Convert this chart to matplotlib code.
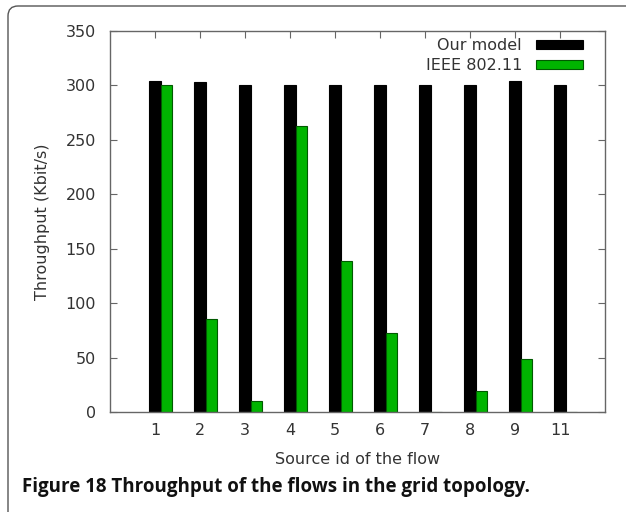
import matplotlib
matplotlib.use("Agg")
import matplotlib.pyplot as plt
from matplotlib.patches import FancyBboxPatch
import numpy as np

categories = ["1", "2", "3", "4", "5", "6", "7", "8", "9", "11"]
our_model = [304, 303, 300, 300, 300, 300, 300, 300, 304, 300]
ieee = [300, 85, 10, 263, 139, 73, 0, 19, 49, 0]
yticks = [0, 50, 100, 150, 200, 250, 300, 350]

fig = plt.figure(figsize=(6.26, 5.12), dpi=100)
ax = fig.add_axes([110/626, 1-412/512, 495/626, 381/512])

x = np.arange(1, len(categories) + 1)
w = 0.25
ax.bar(x, our_model, width=w, color="black", edgecolor="black", linewidth=0.8,
       label="Our model", zorder=2)
ax.bar(x + w, ieee, width=w, color="#00b400", edgecolor="#005a00", linewidth=0.8,
       label="IEEE 802.11", zorder=2)

ax.set_xlim(0, 11)
ax.set_ylim(0, 350)
ax.set_xticks(x)
ax.set_xticklabels(categories)
ax.set_yticks(yticks)

for s in ax.spines.values():
    s.set_color("#666666")
    s.set_linewidth(1.0)

ax.tick_params(axis="both", direction="in", length=5, width=0.8, colors="#666666",
               labelcolor="#333333", labelsize=11.5, top=True, right=True, pad=8)
ax.tick_params(axis="y", pad=10)

ax.set_xlabel("Source id of the flow", fontsize=11.5, color="#333333", labelpad=10)
ax.set_ylabel("Throughput (Kbit/s)", fontsize=11.5, color="#333333", labelpad=11)

leg = ax.legend(loc="upper right", frameon=False, markerfirst=False,
                fontsize=11.5, handlelength=2.9, handleheight=0.5,
                bbox_to_anchor=(1 - 16/495, 1 - 1/381), borderaxespad=0,
                labelspacing=0.3, handletextpad=0.9)
for t in leg.get_texts():
    t.set_color("#333333")

# rounded frame
frame = FancyBboxPatch((0.08, -1.0), 8.0, 5.12 - 0.06 + 1.0,
                       boxstyle="round,pad=0,rounding_size=0.1",
                       transform=fig.dpi_scale_trans, facecolor="none",
                       edgecolor="#555555", linewidth=1.0, clip_on=False)
fig.patches.append(frame)

fig.text(22/626, 1-487/512, "Figure 18 Throughput of the flows in the grid topology.",
         fontsize=13.5, fontweight="bold", family=["Open Sans", "DejaVu Sans"],
         color="#111111", va="center", ha="left")

fig.savefig("out.png", dpi=100)
